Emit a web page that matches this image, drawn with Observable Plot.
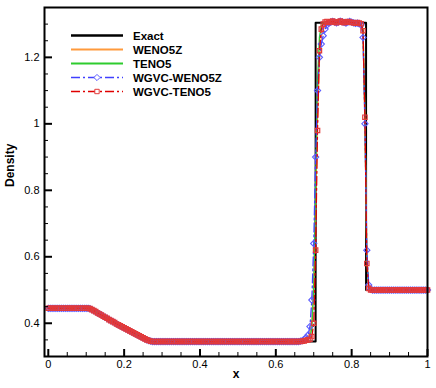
<!DOCTYPE html>
<html>
<head>
<meta charset="utf-8">
<script src="https://cdn.jsdelivr.net/npm/d3@7"></script>
<script src="https://cdn.jsdelivr.net/npm/@observablehq/plot@0.6"></script>
<style>
  html, body { margin: 0; padding: 0; background: white; }
  #chart { width: 436px; height: 388px; }
</style>
</head>
<body>
<div id="chart"></div>
<script>
// ---------- data ----------
const seriesNames = ["Exact", "WENO5Z", "TENO5", "WGVC-WENO5Z", "WGVC-TENO5"];

const exactX   = [0, 0.11, 0.13, 0.15, 0.17, 0.19, 0.21, 0.23, 0.25, 0.27, 0.705, 0.705, 0.838, 0.838, 1];
const exactRho = [0.445, 0.445, 0.4313, 0.4179, 0.4048, 0.3921, 0.3797, 0.3676, 0.3558, 0.345, 0.345, 1.304, 1.304, 0.5, 0.5];

const xGrid = [
  0,0.005,0.01,0.015,0.02,0.025,0.03,0.035,0.04,0.045,
  0.05,0.055,0.06,0.065,0.07,0.075,0.08,0.085,0.09,0.095,
  0.1,0.105,0.11,0.115,0.12,0.125,0.13,0.135,0.14,0.145,
  0.15,0.155,0.16,0.165,0.17,0.175,0.18,0.185,0.19,0.195,
  0.2,0.205,0.21,0.215,0.22,0.225,0.23,0.235,0.24,0.245,
  0.25,0.255,0.26,0.265,0.27,0.275,0.28,0.285,0.29,0.295,
  0.3,0.305,0.31,0.315,0.32,0.325,0.33,0.335,0.34,0.345,
  0.35,0.355,0.36,0.365,0.37,0.375,0.38,0.385,0.39,0.395,
  0.4,0.405,0.41,0.415,0.42,0.425,0.43,0.435,0.44,0.445,
  0.45,0.455,0.46,0.465,0.47,0.475,0.48,0.485,0.49,0.495,
  0.5,0.505,0.51,0.515,0.52,0.525,0.53,0.535,0.54,0.545,
  0.55,0.555,0.56,0.565,0.57,0.575,0.58,0.585,0.59,0.595,
  0.6,0.605,0.61,0.615,0.62,0.625,0.63,0.635,0.64,0.645,
  0.65,0.655,0.66,0.665,0.67,0.675,0.68,0.685,0.69,0.695,
  0.7,0.705,0.71,0.715,0.72,0.725,0.73,0.735,0.74,0.745,
  0.75,0.755,0.76,0.765,0.77,0.775,0.78,0.785,0.79,0.795,
  0.8,0.805,0.81,0.815,0.82,0.825,0.83,0.835,0.84,0.845,
  0.85,0.855,0.86,0.865,0.87,0.875,0.88,0.885,0.89,0.895,
  0.9,0.905,0.91,0.915,0.92,0.925,0.93,0.935,0.94,0.945,
  0.95,0.955,0.96,0.965,0.97,0.975,0.98,0.985,0.99,0.995,
  1
];

const weno5zRho = [
  0.445,0.445,0.445,0.445,0.445,0.445,0.445,0.445,0.445,0.445,
  0.445,0.445,0.445,0.445,0.445,0.445,0.445,0.445,0.445,0.445,
  0.445,0.445,0.444,0.441,0.438,0.435,0.431,0.428,0.425,0.421,
  0.418,0.415,0.411,0.408,0.405,0.402,0.398,0.395,0.392,0.389,
  0.386,0.383,0.380,0.377,0.374,0.371,0.368,0.365,0.362,0.359,
  0.356,0.353,0.350,0.348,0.346,0.345,0.345,0.345,0.345,0.345,
  0.345,0.345,0.345,0.345,0.345,0.345,0.345,0.345,0.345,0.345,
  0.345,0.345,0.345,0.345,0.345,0.345,0.345,0.345,0.345,0.345,
  0.345,0.345,0.345,0.345,0.345,0.345,0.345,0.345,0.345,0.345,
  0.345,0.345,0.345,0.345,0.345,0.345,0.345,0.345,0.345,0.345,
  0.345,0.345,0.345,0.345,0.345,0.345,0.345,0.345,0.345,0.345,
  0.345,0.345,0.345,0.345,0.345,0.345,0.345,0.345,0.345,0.345,
  0.345,0.345,0.345,0.345,0.345,0.345,0.345,0.345,0.345,0.345,
  0.345,0.345,0.345,0.346,0.347,0.349,0.352,0.358,0.372,0.410,
  0.520,0.760,1.020,1.190,1.260,1.285,1.297,1.302,1.305,1.306,
  1.305,1.304,1.303,1.305,1.307,1.306,1.304,1.303,1.305,1.306,
  1.305,1.304,1.303,1.302,1.303,1.300,1.270,1.000,0.610,0.510,
  0.501,0.500,0.500,0.500,0.500,0.500,0.500,0.500,0.500,0.500,
  0.500,0.500,0.500,0.500,0.500,0.500,0.500,0.500,0.500,0.500,
  0.500,0.500,0.500,0.500,0.500,0.500,0.500,0.500,0.500,0.500,
  0.500
];

const teno5Rho = [
  0.445,0.445,0.445,0.445,0.445,0.445,0.445,0.445,0.445,0.445,
  0.445,0.445,0.445,0.445,0.445,0.445,0.445,0.445,0.445,0.445,
  0.445,0.445,0.444,0.441,0.438,0.435,0.431,0.428,0.425,0.421,
  0.418,0.415,0.411,0.408,0.405,0.402,0.398,0.395,0.392,0.389,
  0.386,0.383,0.380,0.377,0.374,0.371,0.368,0.365,0.362,0.359,
  0.356,0.353,0.350,0.348,0.346,0.345,0.345,0.345,0.345,0.345,
  0.345,0.345,0.345,0.345,0.345,0.345,0.345,0.345,0.345,0.345,
  0.345,0.345,0.345,0.345,0.345,0.345,0.345,0.345,0.345,0.345,
  0.345,0.345,0.345,0.345,0.345,0.345,0.345,0.345,0.345,0.345,
  0.345,0.345,0.345,0.345,0.345,0.345,0.345,0.345,0.345,0.345,
  0.345,0.345,0.345,0.345,0.345,0.345,0.345,0.345,0.345,0.345,
  0.345,0.345,0.345,0.345,0.345,0.345,0.345,0.345,0.345,0.345,
  0.345,0.345,0.345,0.345,0.345,0.345,0.345,0.345,0.345,0.345,
  0.345,0.345,0.345,0.345,0.346,0.347,0.350,0.352,0.358,0.385,
  0.500,0.820,1.130,1.260,1.295,1.303,1.306,1.305,1.304,1.306,
  1.307,1.305,1.303,1.304,1.306,1.307,1.305,1.303,1.304,1.306,
  1.305,1.303,1.302,1.304,1.303,1.301,1.285,1.020,0.590,0.505,
  0.500,0.500,0.500,0.500,0.500,0.500,0.500,0.500,0.500,0.500,
  0.500,0.500,0.500,0.500,0.500,0.500,0.500,0.500,0.500,0.500,
  0.500,0.500,0.500,0.500,0.500,0.500,0.500,0.500,0.500,0.500,
  0.500
];

const wgvcWeno5zRho = [
  0.445,0.445,0.445,0.445,0.445,0.445,0.445,0.445,0.445,0.445,
  0.445,0.445,0.445,0.445,0.445,0.445,0.445,0.445,0.445,0.445,
  0.445,0.445,0.444,0.441,0.438,0.435,0.431,0.428,0.425,0.421,
  0.418,0.415,0.411,0.408,0.405,0.402,0.398,0.395,0.392,0.389,
  0.386,0.383,0.380,0.377,0.374,0.371,0.368,0.365,0.362,0.359,
  0.356,0.353,0.350,0.348,0.346,0.345,0.345,0.345,0.345,0.345,
  0.345,0.345,0.345,0.345,0.345,0.345,0.345,0.345,0.345,0.345,
  0.345,0.345,0.345,0.345,0.345,0.345,0.345,0.345,0.345,0.345,
  0.345,0.345,0.345,0.345,0.345,0.345,0.345,0.345,0.345,0.345,
  0.345,0.345,0.345,0.345,0.345,0.345,0.345,0.345,0.345,0.345,
  0.345,0.345,0.345,0.345,0.345,0.345,0.345,0.345,0.345,0.345,
  0.345,0.345,0.345,0.345,0.345,0.345,0.345,0.345,0.345,0.345,
  0.345,0.345,0.345,0.345,0.345,0.345,0.345,0.345,0.345,0.345,
  0.345,0.345,0.345,0.346,0.348,0.352,0.357,0.365,0.390,0.470,
  0.640,0.900,1.100,1.200,1.240,1.265,1.285,1.297,1.303,1.306,
  1.308,1.306,1.304,1.306,1.309,1.307,1.305,1.303,1.306,1.308,
  1.306,1.304,1.302,1.303,1.301,1.298,1.260,1.000,0.620,0.515,
  0.502,0.500,0.500,0.500,0.500,0.500,0.500,0.500,0.500,0.500,
  0.500,0.500,0.500,0.500,0.500,0.500,0.500,0.500,0.500,0.500,
  0.500,0.500,0.500,0.500,0.500,0.500,0.500,0.500,0.500,0.500,
  0.500
];

const wgvcTeno5Rho = [
  0.445,0.445,0.445,0.445,0.445,0.445,0.445,0.445,0.445,0.445,
  0.445,0.445,0.445,0.445,0.445,0.445,0.445,0.445,0.445,0.445,
  0.445,0.445,0.444,0.441,0.438,0.435,0.431,0.428,0.425,0.421,
  0.418,0.415,0.411,0.408,0.405,0.402,0.398,0.395,0.392,0.389,
  0.386,0.383,0.380,0.377,0.374,0.371,0.368,0.365,0.362,0.359,
  0.356,0.353,0.350,0.348,0.346,0.345,0.345,0.345,0.345,0.345,
  0.345,0.345,0.345,0.345,0.345,0.345,0.345,0.345,0.345,0.345,
  0.345,0.345,0.345,0.345,0.345,0.345,0.345,0.345,0.345,0.345,
  0.345,0.345,0.345,0.345,0.345,0.345,0.345,0.345,0.345,0.345,
  0.345,0.345,0.345,0.345,0.345,0.345,0.345,0.345,0.345,0.345,
  0.345,0.345,0.345,0.345,0.345,0.345,0.345,0.345,0.345,0.345,
  0.345,0.345,0.345,0.345,0.345,0.345,0.345,0.345,0.345,0.345,
  0.345,0.345,0.345,0.345,0.345,0.345,0.345,0.345,0.345,0.345,
  0.345,0.345,0.345,0.345,0.346,0.347,0.349,0.350,0.352,0.360,
  0.400,0.620,0.980,1.220,1.285,1.300,1.306,1.308,1.305,1.307,
  1.309,1.306,1.304,1.307,1.309,1.306,1.304,1.306,1.308,1.306,
  1.305,1.304,1.303,1.305,1.303,1.301,1.280,1.020,0.580,0.505,
  0.500,0.500,0.500,0.500,0.500,0.500,0.500,0.500,0.500,0.500,
  0.500,0.500,0.500,0.500,0.500,0.500,0.500,0.500,0.500,0.500,
  0.500,0.500,0.500,0.500,0.500,0.500,0.500,0.500,0.500,0.500,
  0.500
];

const xMajorTicks = [0, 0.2, 0.4, 0.6, 0.8, 1];
const xTickLabels = ["0", "0.2", "0.4", "0.6", "0.8", "1"];
const xMinorTicks = [0.05, 0.1, 0.15, 0.25, 0.3, 0.35, 0.45, 0.5, 0.55, 0.65, 0.7, 0.75, 0.85, 0.9, 0.95];
const yMajorTicks = [0.4, 0.6, 0.8, 1, 1.2];
const yTickLabels = ["0.4", "0.6", "0.8", "1", "1.2"];
const yMinorTicks = [0.35, 0.45, 0.5, 0.55, 0.65, 0.7, 0.75, 0.85, 0.9, 0.95, 1.05, 1.1, 1.15, 1.25, 1.3];
const xTitle = "x";
const yTitle = "Density";

// ---------- build ----------
const exactData = exactX.map((x, i) => ({x, y: exactRho[i]}));
const toRows = arr => xGrid.map((x, i) => ({x, y: arr[i]}));
const wenoData = toRows(weno5zRho);
const tenoData = toRows(teno5Rho);
const gwData = toRows(wgvcWeno5zRho);
const gtData = toRows(wgvcTeno5Rho);

const FONT = "'Liberation Sans', Arial, Helvetica, sans-serif";
const C = {
  exact: "#000000",
  weno: "#ff9a3c",
  teno: "#2ecc2e",
  gwLine: "#4040ff",
  gwMark: "#5c5cff",
  gtLine: "#e00000",
  gtMark: "#e23a3a"
};
const DASHDOT = "9,3,2,3";

const chart = Plot.plot({
  width: 436,
  height: 388,
  marginLeft: 44,
  marginRight: 9,
  marginTop: 7,
  marginBottom: 32,
  style: {fontFamily: FONT, fontSize: "11px", color: "black", background: "white"},
  x: {domain: [-0.01, 1.0], label: null},
  y: {domain: [0.3, 1.35], label: null},
  marks: [
    Plot.line(exactData, {x: "x", y: "y", stroke: C.exact, strokeWidth: 2}),
    Plot.line(wenoData, {x: "x", y: "y", stroke: C.weno, strokeWidth: 1.3}),
    Plot.line(tenoData, {x: "x", y: "y", stroke: C.teno, strokeWidth: 1.3}),
    Plot.line(gwData, {x: "x", y: "y", stroke: C.gwLine, strokeWidth: 1.3, strokeDasharray: DASHDOT}),
    Plot.dot(gwData, {x: "x", y: "y", symbol: "diamond2", r: 2.8, stroke: C.gwMark, strokeWidth: 1.1, fill: "none"}),
    Plot.line(gtData, {x: "x", y: "y", stroke: C.gtLine, strokeWidth: 1.3, strokeDasharray: DASHDOT}),
    Plot.dot(gtData, {x: "x", y: "y", symbol: "square2", r: 2.8, stroke: C.gtMark, strokeWidth: 1.2, fill: "none"}),
    Plot.frame({stroke: "black", strokeWidth: 2}),
    Plot.axisX(xMajorTicks, {tickSize: -7, tickPadding: 11, strokeWidth: 2, label: null, fontSize: 11,
      tickFormat: d => xTickLabels[xMajorTicks.indexOf(d)]}),
    Plot.axisX(xMinorTicks, {tickSize: -4, strokeWidth: 1, label: null, tickFormat: () => ""}),
    Plot.axisY(yMajorTicks, {tickSize: -8, tickPadding: 13, strokeWidth: 2, label: null, fontSize: 11,
      tickFormat: d => yTickLabels[yMajorTicks.indexOf(d)]}),
    Plot.axisY(yMinorTicks, {tickSize: -4, strokeWidth: 1, label: null, tickFormat: () => ""}),
    Plot.text([xTitle], {frameAnchor: "bottom", dy: 21, fontWeight: "bold", fontSize: 12}),
    Plot.text([yTitle], {frameAnchor: "left", dx: -34, dy: 5, rotate: -90, fontWeight: "bold", fontSize: 12})
  ]
});

document.getElementById("chart").appendChild(chart);

// ---------- legend ----------
const legendStyles = [
  {stroke: C.exact, width: 2.5},
  {stroke: C.weno, width: 2},
  {stroke: C.teno, width: 2},
  {stroke: C.gwLine, width: 1.6, dash: DASHDOT, symbol: d3.symbolDiamond2, mark: C.gwMark, size: Math.PI * 2.8 * 2.8},
  {stroke: C.gtLine, width: 1.6, dash: DASHDOT, symbol: d3.symbolSquare2, mark: C.gtMark, size: Math.PI * 2.8 * 2.8}
];
const lg = d3.select(chart).append("g")
  .attr("font-family", FONT).attr("font-weight", "bold").attr("font-size", 11.5)
  .attr("text-anchor", "start");
seriesNames.forEach((name, k) => {
  const st = legendStyles[k];
  const y = 35.5 + 14 * k;
  lg.append("line").attr("x1", 71).attr("x2", 123).attr("y1", y).attr("y2", y)
    .attr("stroke", st.stroke).attr("stroke-width", st.width)
    .attr("stroke-dasharray", st.dash || null);
  if (st.symbol) {
    lg.append("path").attr("d", d3.symbol(st.symbol, st.size)())
      .attr("transform", `translate(97,${y})`)
      .attr("fill", "white").attr("stroke", st.mark).attr("stroke-width", 1);
  }
  lg.append("text").attr("x", 133).attr("y", y).attr("dy", "0.35em")
    .attr("text-anchor", "start").attr("fill", "black").text(name);
});
</script>
</body>
</html>
